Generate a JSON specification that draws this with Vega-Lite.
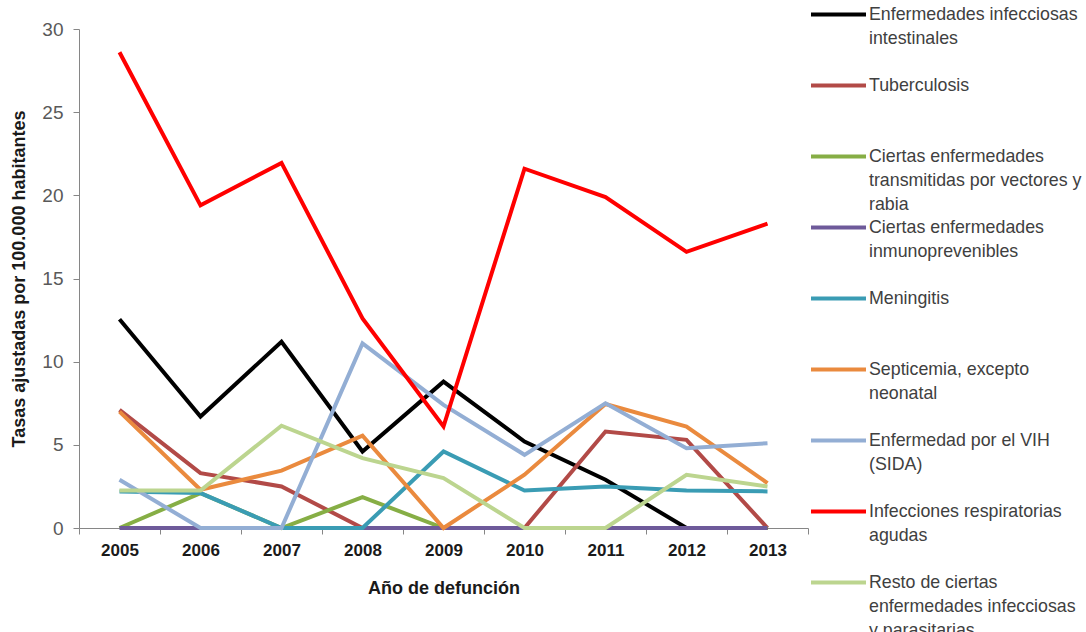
{
  "$schema": "https://vega.github.io/schema/vega-lite/v6.json",
  "autosize": {"type": "none"},
  "width": 729,
  "height": 499,
  "padding": {"left": 79, "top": 29, "right": 278, "bottom": 104},
  "background": "white",
  "data": {"values": [
    {"year": "2005", "serie": "Enfermedades infecciosas intestinales", "tasa": 12.55},
    {"year": "2006", "serie": "Enfermedades infecciosas intestinales", "tasa": 6.7},
    {"year": "2007", "serie": "Enfermedades infecciosas intestinales", "tasa": 11.2},
    {"year": "2008", "serie": "Enfermedades infecciosas intestinales", "tasa": 4.6},
    {"year": "2009", "serie": "Enfermedades infecciosas intestinales", "tasa": 8.8},
    {"year": "2010", "serie": "Enfermedades infecciosas intestinales", "tasa": 5.2},
    {"year": "2011", "serie": "Enfermedades infecciosas intestinales", "tasa": 2.9},
    {"year": "2012", "serie": "Enfermedades infecciosas intestinales", "tasa": 0},
    {"year": "2013", "serie": "Enfermedades infecciosas intestinales", "tasa": 0},
    {"year": "2005", "serie": "Tuberculosis", "tasa": 7.1},
    {"year": "2006", "serie": "Tuberculosis", "tasa": 3.3},
    {"year": "2007", "serie": "Tuberculosis", "tasa": 2.5},
    {"year": "2008", "serie": "Tuberculosis", "tasa": 0},
    {"year": "2009", "serie": "Tuberculosis", "tasa": 0},
    {"year": "2010", "serie": "Tuberculosis", "tasa": 0},
    {"year": "2011", "serie": "Tuberculosis", "tasa": 5.8},
    {"year": "2012", "serie": "Tuberculosis", "tasa": 5.3},
    {"year": "2013", "serie": "Tuberculosis", "tasa": 0},
    {"year": "2005", "serie": "Ciertas enfermedades transmitidas por vectores y rabia", "tasa": 0},
    {"year": "2006", "serie": "Ciertas enfermedades transmitidas por vectores y rabia", "tasa": 2.1},
    {"year": "2007", "serie": "Ciertas enfermedades transmitidas por vectores y rabia", "tasa": 0},
    {"year": "2008", "serie": "Ciertas enfermedades transmitidas por vectores y rabia", "tasa": 1.85},
    {"year": "2009", "serie": "Ciertas enfermedades transmitidas por vectores y rabia", "tasa": 0},
    {"year": "2010", "serie": "Ciertas enfermedades transmitidas por vectores y rabia", "tasa": 0},
    {"year": "2011", "serie": "Ciertas enfermedades transmitidas por vectores y rabia", "tasa": 0},
    {"year": "2012", "serie": "Ciertas enfermedades transmitidas por vectores y rabia", "tasa": 0},
    {"year": "2013", "serie": "Ciertas enfermedades transmitidas por vectores y rabia", "tasa": 0},
    {"year": "2005", "serie": "Ciertas enfermedades inmunoprevenibles", "tasa": 0},
    {"year": "2006", "serie": "Ciertas enfermedades inmunoprevenibles", "tasa": 0},
    {"year": "2007", "serie": "Ciertas enfermedades inmunoprevenibles", "tasa": 0},
    {"year": "2008", "serie": "Ciertas enfermedades inmunoprevenibles", "tasa": 0},
    {"year": "2009", "serie": "Ciertas enfermedades inmunoprevenibles", "tasa": 0},
    {"year": "2010", "serie": "Ciertas enfermedades inmunoprevenibles", "tasa": 0},
    {"year": "2011", "serie": "Ciertas enfermedades inmunoprevenibles", "tasa": 0},
    {"year": "2012", "serie": "Ciertas enfermedades inmunoprevenibles", "tasa": 0},
    {"year": "2013", "serie": "Ciertas enfermedades inmunoprevenibles", "tasa": 0},
    {"year": "2005", "serie": "Meningitis", "tasa": 2.2},
    {"year": "2006", "serie": "Meningitis", "tasa": 2.1},
    {"year": "2007", "serie": "Meningitis", "tasa": 0},
    {"year": "2008", "serie": "Meningitis", "tasa": 0},
    {"year": "2009", "serie": "Meningitis", "tasa": 4.6},
    {"year": "2010", "serie": "Meningitis", "tasa": 2.25},
    {"year": "2011", "serie": "Meningitis", "tasa": 2.5},
    {"year": "2012", "serie": "Meningitis", "tasa": 2.25},
    {"year": "2013", "serie": "Meningitis", "tasa": 2.2},
    {"year": "2005", "serie": "Septicemia, excepto neonatal", "tasa": 7.0},
    {"year": "2006", "serie": "Septicemia, excepto neonatal", "tasa": 2.3},
    {"year": "2007", "serie": "Septicemia, excepto neonatal", "tasa": 3.45},
    {"year": "2008", "serie": "Septicemia, excepto neonatal", "tasa": 5.55},
    {"year": "2009", "serie": "Septicemia, excepto neonatal", "tasa": 0},
    {"year": "2010", "serie": "Septicemia, excepto neonatal", "tasa": 3.2},
    {"year": "2011", "serie": "Septicemia, excepto neonatal", "tasa": 7.45},
    {"year": "2012", "serie": "Septicemia, excepto neonatal", "tasa": 6.1},
    {"year": "2013", "serie": "Septicemia, excepto neonatal", "tasa": 2.7},
    {"year": "2005", "serie": "Enfermedad por el VIH (SIDA)", "tasa": 2.9},
    {"year": "2006", "serie": "Enfermedad por el VIH (SIDA)", "tasa": 0},
    {"year": "2007", "serie": "Enfermedad por el VIH (SIDA)", "tasa": 0},
    {"year": "2008", "serie": "Enfermedad por el VIH (SIDA)", "tasa": 11.1},
    {"year": "2009", "serie": "Enfermedad por el VIH (SIDA)", "tasa": 7.4},
    {"year": "2010", "serie": "Enfermedad por el VIH (SIDA)", "tasa": 4.4},
    {"year": "2011", "serie": "Enfermedad por el VIH (SIDA)", "tasa": 7.5},
    {"year": "2012", "serie": "Enfermedad por el VIH (SIDA)", "tasa": 4.8},
    {"year": "2013", "serie": "Enfermedad por el VIH (SIDA)", "tasa": 5.1},
    {"year": "2005", "serie": "Infecciones respiratorias agudas", "tasa": 28.6},
    {"year": "2006", "serie": "Infecciones respiratorias agudas", "tasa": 19.4},
    {"year": "2007", "serie": "Infecciones respiratorias agudas", "tasa": 21.95},
    {"year": "2008", "serie": "Infecciones respiratorias agudas", "tasa": 12.6},
    {"year": "2009", "serie": "Infecciones respiratorias agudas", "tasa": 6.1},
    {"year": "2010", "serie": "Infecciones respiratorias agudas", "tasa": 21.6},
    {"year": "2011", "serie": "Infecciones respiratorias agudas", "tasa": 19.9},
    {"year": "2012", "serie": "Infecciones respiratorias agudas", "tasa": 16.6},
    {"year": "2013", "serie": "Infecciones respiratorias agudas", "tasa": 18.3},
    {"year": "2005", "serie": "Resto de ciertas enfermedades infecciosas y parasitarias", "tasa": 2.25},
    {"year": "2006", "serie": "Resto de ciertas enfermedades infecciosas y parasitarias", "tasa": 2.25},
    {"year": "2007", "serie": "Resto de ciertas enfermedades infecciosas y parasitarias", "tasa": 6.15},
    {"year": "2008", "serie": "Resto de ciertas enfermedades infecciosas y parasitarias", "tasa": 4.2},
    {"year": "2009", "serie": "Resto de ciertas enfermedades infecciosas y parasitarias", "tasa": 3.0},
    {"year": "2010", "serie": "Resto de ciertas enfermedades infecciosas y parasitarias", "tasa": 0},
    {"year": "2011", "serie": "Resto de ciertas enfermedades infecciosas y parasitarias", "tasa": 0},
    {"year": "2012", "serie": "Resto de ciertas enfermedades infecciosas y parasitarias", "tasa": 3.2},
    {"year": "2013", "serie": "Resto de ciertas enfermedades infecciosas y parasitarias", "tasa": 2.5}
  ]},
  "mark": {"type": "line", "strokeWidth": 4, "strokeCap": "butt", "strokeJoin": "miter"},
  "encoding": {
    "x": {
      "field": "year", "type": "ordinal",
      "scale": {"type": "band", "paddingInner": 0, "paddingOuter": 0},
      "axis": {
        "title": "Año de defunción", "labelAngle": 0, "tickBand": "extent",
        "labelFont": "Liberation Sans", "labelFontSize": 17, "labelFontWeight": "bold", "labelColor": "#1a1a1a",
        "labelPadding": 8, "tickSize": 6, "tickColor": "#868686", "domainColor": "#868686",
        "titleFont": "Liberation Sans", "titleFontSize": 18, "titleFontWeight": "bold", "titleColor": "#1a1a1a", "titlePadding": 21,
        "grid": false
      }
    },
    "y": {
      "field": "tasa", "type": "quantitative",
      "scale": {"domain": [0, 30], "nice": false},
      "axis": {
        "title": "Tasas ajustadas por 100.000 habitantes", "values": [0, 5, 10, 15, 20, 25, 30],
        "labelFont": "Liberation Sans", "labelFontSize": 19, "labelColor": "#595959", "labelPadding": 10,
        "tickSize": 6, "tickColor": "#868686", "domainColor": "#868686", "grid": false,
        "titleFont": "Liberation Sans", "titleFontSize": 18, "titleFontWeight": "bold", "titleColor": "#1a1a1a", "titlePadding": 13
      }
    },
    "color": {
      "field": "serie", "type": "nominal",
      "scale": {
        "domain": ["Enfermedades infecciosas intestinales", "Tuberculosis", "Ciertas enfermedades transmitidas por vectores y rabia", "Ciertas enfermedades inmunoprevenibles", "Meningitis", "Septicemia, excepto neonatal", "Enfermedad por el VIH (SIDA)", "Infecciones respiratorias agudas", "Resto de ciertas enfermedades infecciosas y parasitarias"],
        "range": ["#000000", "#B24A47", "#86AE45", "#6E5A9A", "#3A9CB4", "#EA8A3E", "#93AED4", "#FF0000", "#BCD58F"]
      },
      "legend": {
        "orient": "none", "legendX": 730, "legendY": -27.25, "title": null, "padding": 0,
        "symbolType": "M-1,-0.2L1,-0.2", "symbolSize": 3025, "symbolStrokeWidth": 4,
        "clipHeight": 36.5, "rowPadding": 0, "gridAlign": "all", "labelOffset": 1, "labelLimit": 300,
        "labelFont": "Liberation Sans", "labelFontSize": 17.8, "labelColor": "#404040", "labelBaseline": "alphabetic",
        "labelExpr": "datum.label == 'Enfermedades infecciosas intestinales' ? ['Enfermedades infecciosas', 'intestinales'] : datum.label == 'Ciertas enfermedades transmitidas por vectores y rabia' ? ['Ciertas enfermedades', 'transmitidas por vectores y', 'rabia'] : datum.label == 'Ciertas enfermedades inmunoprevenibles' ? ['Ciertas enfermedades', 'inmunoprevenibles'] : datum.label == 'Septicemia, excepto neonatal' ? ['Septicemia, excepto', 'neonatal'] : datum.label == 'Enfermedad por el VIH (SIDA)' ? ['Enfermedad por el VIH', '(SIDA)'] : datum.label == 'Infecciones respiratorias agudas' ? ['Infecciones respiratorias', 'agudas'] : datum.label == 'Resto de ciertas enfermedades infecciosas y parasitarias' ? ['Resto de ciertas', 'enfermedades infecciosas', 'y parasitarias'] : datum.label"
      }
    }
  },
  "config": {
    "view": {"stroke": null},
    "style": {"guide-label": {"lineHeight": 24}}
  }
}
